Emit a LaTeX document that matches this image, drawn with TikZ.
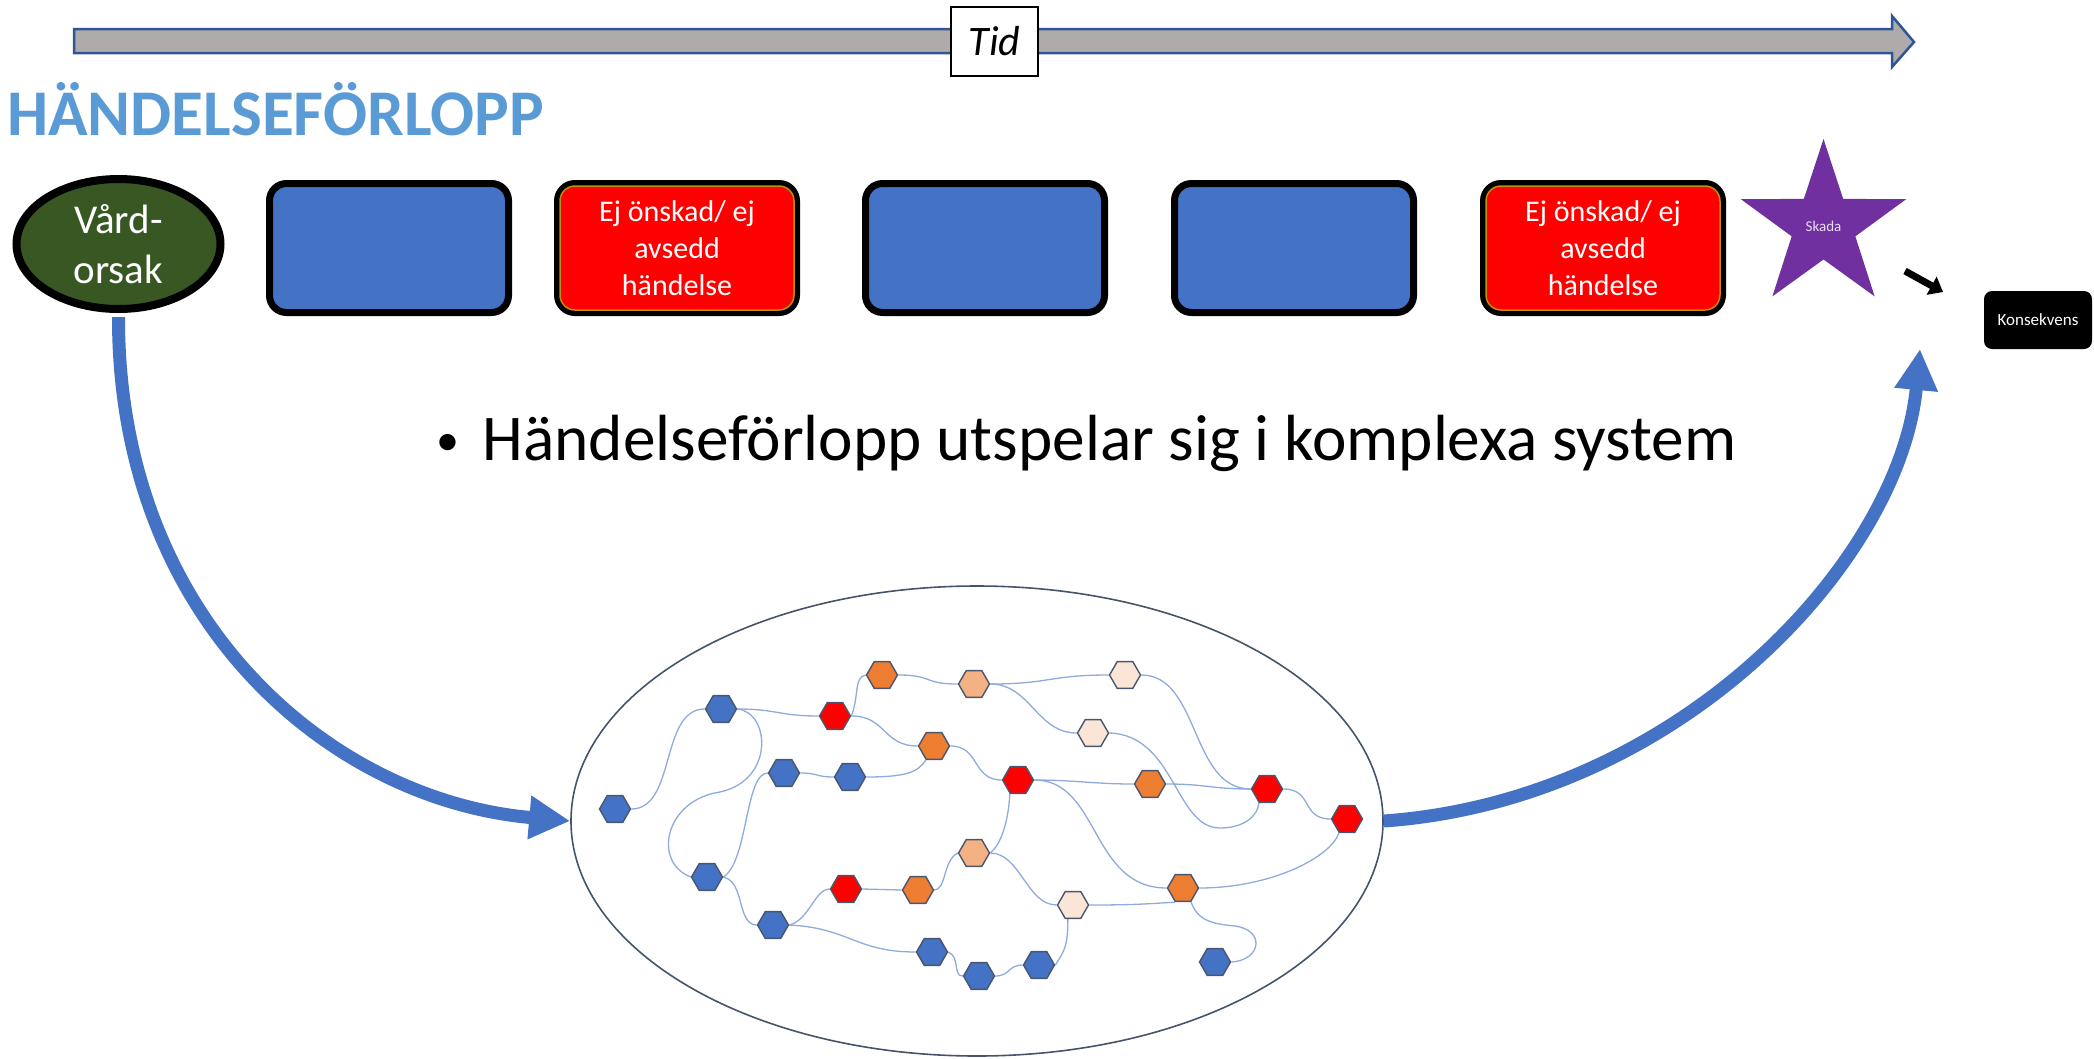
\documentclass[tikz,border=0pt]{standalone}
\usepackage{fontspec}
\setmainfont{Carlito}
\usetikzlibrary{shapes.geometric,arrows.meta,backgrounds}

\definecolor{boxblue}{RGB}{68,114,196}
\definecolor{arrowblue}{RGB}{68,114,196}
\definecolor{evred}{RGB}{255,0,0}
\definecolor{goldline}{RGB}{191,144,0}
\definecolor{vgreen}{RGB}{56,87,35}
\definecolor{skadapurple}{RGB}{112,48,160}
\definecolor{skadatext}{RGB}{232,222,244}
\definecolor{titleblue}{RGB}{91,155,213}
\definecolor{timegray}{RGB}{175,171,171}
\definecolor{timeline}{RGB}{47,85,151}
\definecolor{ellline}{RGB}{68,84,106}
\definecolor{hexline}{RGB}{72,86,110}
\definecolor{hexblue}{RGB}{68,114,196}
\definecolor{hexred}{RGB}{255,0,0}
\definecolor{hexorange}{RGB}{237,125,49}
\definecolor{hexlight}{RGB}{244,177,131}
\definecolor{hexpale}{RGB}{251,229,214}
\definecolor{linkc}{RGB}{143,170,220}

\begin{document}
\begin{tikzpicture}[x=1pt,y=-1pt,
  hexbase/.style={regular polygon, regular polygon sides=6, minimum size=31pt,
    inner sep=0pt, draw=hexline, line width=1.4pt},
  hb/.style={hexbase, fill=hexblue},
  hr/.style={hexbase, fill=hexred},
  ho/.style={hexbase, fill=hexorange},
  hl/.style={hexbase, fill=hexlight},
  hp/.style={hexbase, fill=hexpale},
  bluebox/.style={rectangle, rounded corners=17pt, draw=black, line width=7pt,
    fill=boxblue, minimum width=239pt, minimum height=129pt, inner sep=0pt},
  redbox/.style={rectangle, rounded corners=15pt,
    preaction={draw=black, line width=12pt},
    draw=goldline, line width=1.5pt, fill=evred,
    minimum width=234pt, minimum height=124pt, inner sep=0pt,
    text=white, align=center, font=\fontsize{30}{37}\selectfont},
  bigarrow/.style={draw=arrowblue, line width=13pt,
    -{Triangle[length=41pt,width=41pt]}},
  link/.style={draw=linkc, line width=1.3pt}
]
\useasboundingbox (0,0) rectangle (2094,1058);

% time axis
\draw[fill=timegray, draw=timeline, line width=2.5pt, line join=miter]
  (74,29) -- (1892,29) -- (1892,16) -- (1914,42) -- (1892,67) -- (1892,53)
  -- (74,53) -- cycle;
\node[draw=black, line width=2pt, fill=white, minimum width=87pt,
  minimum height=69pt, inner sep=0pt,
  font=\fontsize{42}{50}\selectfont\itshape] (T) at (994.5,41.5) {Tid};

% heading
\node[anchor=base west, inner sep=0pt, text=titleblue,
  font=\fontsize{65.2}{78}\selectfont\bfseries] (H) at (7,135) {HÄNDELSEFÖRLOPP};

% chain of events
\node[ellipse, draw=black, line width=8pt, fill=vgreen, minimum width=204pt,
  minimum height=130pt, inner sep=0pt, text=white, align=center,
  font=\fontsize{41}{50}\selectfont] (V) at (118.5,244) {Vård-\\orsak};
\node[bluebox] (A1) at (389,248) {};
\node[redbox] (A2) at (677,248) {Ej önskad/ ej\\avsedd\\händelse};
\node[bluebox] (A3) at (985,248) {};
\node[bluebox] (A4) at (1294,248) {};
\node[redbox] (A5) at (1603,248) {Ej önskad/ ej\\avsedd\\händelse};
\node[star, star points=5, star point ratio=2.6, minimum size=174pt,
  inner sep=0pt, fill=skadapurple, text=skadatext,
  font=\fontsize{15}{18}\selectfont] (S) at (1823.5,226) {Skada};
\node[rectangle, rounded corners=8pt, fill=black, text=white,
  minimum width=108pt, minimum height=58pt, inner sep=0pt,
  font=\fontsize{17}{20}\selectfont] (K) at (2038,320) {Konsekvens};
\coordinate (sa) at (1905,271);
\coordinate (sb) at (1943,292);
\draw[line width=7pt, -{Triangle[length=13pt,width=20pt]}] (sa) -- (sb);

% bullet line
\node[anchor=base west, inner sep=0pt, font=\fontsize{65.3}{78}\selectfont]
  (L) at (436,460) {\makebox[46.5pt][l]{\fontsize{46}{50}\selectfont\raisebox{5pt}{•}}Händelseförlopp utspelar sig i komplexa system};

% complex system
\node[ellipse, draw=ellline, line width=1.6pt, minimum width=812pt,
  minimum height=470pt, inner sep=0pt] (E) at (977,821) {};

\node[hb] (B1) at (615,809) {};
\node[hb] (B2) at (721,709) {};
\node[hb] (B3) at (784,773) {};
\node[hb] (B4) at (850,777) {};
\node[hb] (B5) at (707,877) {};
\node[hb] (B6) at (773,925) {};
\node[hb] (B7) at (932,952) {};
\node[hb] (B8) at (979,976) {};
\node[hb] (B9) at (1039,965) {};
\node[hb] (B10) at (1215,962) {};
\node[hr] (R1) at (835,716) {};
\node[hr] (R2) at (1018,780) {};
\node[hr] (R4) at (1267,789) {};
\node[hr] (R5) at (1347,819) {};
\node[hr] (R6) at (846,889) {};
\node[ho] (O1) at (882,675) {};
\node[ho] (O2) at (934,746) {};
\node[ho] (O3) at (1150,784) {};
\node[ho] (O4) at (918,890) {};
\node[ho] (O5) at (1183,888) {};
\node[hl] (L1) at (974,684) {};
\node[hl] (L2) at (974,853) {};
\node[hp] (P1) at (1125,675) {};
\node[hp] (P2) at (1093,733) {};
\node[hp] (P3) at (1073,905) {};

\begin{scope}[on background layer]
\draw[link] (B1.east) .. controls +(45,0) and +(-45,0) .. (B2.west);
\draw[link] (B2.east) .. controls +(40,0) and +(-40,0) .. (R1.west);
\draw[link] (B2.east) .. controls (770,712) and (775,780) .. (720,792)
  .. controls (665,800) and (652,862) .. (B5.west);
\draw[link] (B3.west) .. controls (745,773) and (748,862) .. (B5.east);
\draw[link] (B5.east) .. controls +(22,5) and +(-20,0) .. (B6.west);
\draw[link] (B3.east) .. controls +(18,0) and +(-18,0) .. (B4.west);
\draw[link] (B4.east) .. controls +(40,0) and +(-8,12) .. (O2.240);
\draw[link] (R1.east) .. controls +(8,-20) and +(-12,2) .. (O1.west);
\draw[link] (R1.east) .. controls +(35,0) and +(-35,0) .. (O2.west);
\draw[link] (O1.east) .. controls +(35,0) and +(-35,0) .. (L1.west);
\draw[link] (L1.east) .. controls +(60,0) and +(-60,0) .. (P1.west);
\draw[link] (L1.east) .. controls +(40,0) and +(-40,0) .. (P2.west);
\draw[link] (O2.east) .. controls +(30,0) and +(-30,0) .. (R2.west);
\draw[link] (R2.east) .. controls +(40,0) and +(-40,0) .. (O3.west);
\draw[link] (O3.east) .. controls +(40,0) and +(-40,0) .. (R4.west);
\draw[link] (P1.east) .. controls (1200,675) and (1190,789) .. (R4.west);
\draw[link] (P2.east) .. controls (1175,735) and (1175,828) .. (1220,828)
  .. controls (1245,828) and (1258,815) .. (R4.240);
\draw[link] (R4.east) .. controls +(30,0) and +(-30,0) .. (R5.west);
\draw[link] (R2.240) .. controls (1008,825) and (1000,845) .. (L2.east);
\draw[link] (R2.east) .. controls (1100,780) and (1090,888) .. (O5.west);
\draw[link] (O5.east) .. controls (1270,888) and (1330,858) .. (R5.240);
\draw[link] (P3.east) .. controls +(40,0) and +(-30,2) .. (O5.240);
\draw[link] (O5.300) .. controls (1198,922) and (1215,924) .. (1235,926)
  .. controls (1265,930) and (1262,960) .. (B10.east);
\draw[link] (L2.east) .. controls +(30,0) and +(-30,0) .. (P3.west);
\draw[link] (L2.west) .. controls +(-15,8) and +(12,0) .. (O4.east);
\draw[link] (R6.east) .. controls +(20,0) and +(-20,0) .. (O4.west);
\draw[link] (B6.east) .. controls +(20,-5) and +(-15,0) .. (R6.west);
\draw[link] (B6.east) .. controls +(60,3) and +(-60,0) .. (B7.west);
\draw[link] (B7.east) .. controls +(12,5) and +(-10,0) .. (B8.west);
\draw[link] (B8.east) .. controls +(15,0) and +(-15,0) .. (B9.west);
\draw[link] (B9.east) .. controls +(10,-15) and +(0,25) .. (P3.250);
\end{scope}

% flow into and out of the system
\draw[bigarrow] ([yshift=-4pt]V.south) .. controls (118,620) and (330,800) .. (E.west);
\coordinate (Rend) at (1920,349);
\draw[bigarrow] (E.east) .. controls (1680,800) and (1900,560) .. (Rend);
\end{tikzpicture}
\end{document}
